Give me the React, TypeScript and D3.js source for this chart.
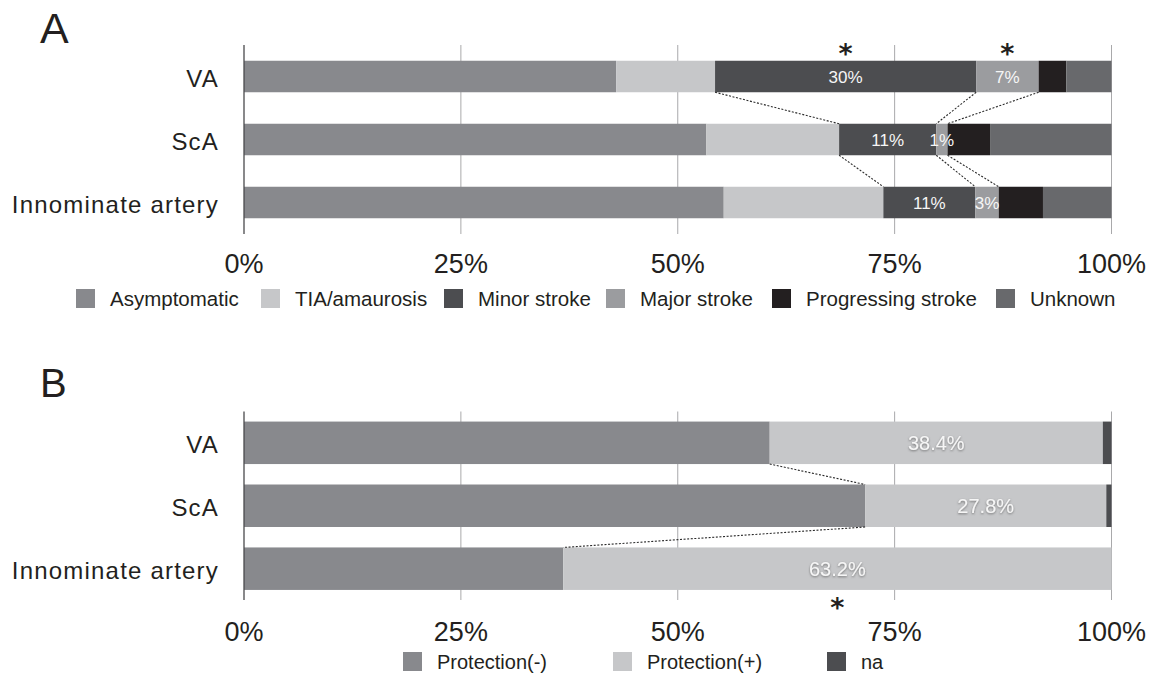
import React, { useEffect } from "react";
import * as d3 from "d3";

// ---- data ----
const arteries = ["VA", "ScA", "Innominate artery"];

const symptomKeys = ["Asymptomatic", "TIA/amaurosis", "Minor stroke", "Major stroke", "Progressing stroke", "Unknown"];
const symptomColors = ["#88898d", "#c6c7c9", "#4c4d50", "#9b9c9f", "#231f20", "#68696c"];
const symptomVA = [42.9, 11.4, 30.1, 7.2, 3.2, 5.2];
const symptomScA = [53.3, 15.3, 11.2, 1.3, 4.9, 14.0];
const symptomInnominate = [55.3, 18.4, 10.6, 2.7, 5.1, 7.9];

const protectionKeys = ["Protection(-)", "Protection(+)", "na"];
const protectionColors = ["#88898d", "#c6c7c9", "#4c4d50"];
const protectionVA = [60.6, 38.4, 1.0];
const protectionScA = [71.6, 27.8, 0.6];
const protectionInnominate = [36.8, 63.2, 0];

const tickValues = [0, 25, 50, 75, 100];

// segments that carry a value label, segments whose starts are joined between rows, significance marks
const symptomLabelled = ["Minor stroke", "Major stroke"];
const symptomLinked = ["Minor stroke", "Major stroke", "Progressing stroke"];
const symptomStars = [
  { artery: "VA", key: "Minor stroke" },
  { artery: "VA", key: "Major stroke" },
];
const protectionLabelled = ["Protection(+)"];
const protectionLinked = ["Protection(+)"];
const protectionStars = [{ artery: "Innominate artery", key: "Protection(+)" }];

const FONT = "'Liberation Sans', Arial, Helvetica, sans-serif";
const STAR_SIZE = 27;

type PanelProps = {
  id: string;
  letter: string;
  letterY: number;
  letterSize: number;
  keys: string[];
  colors: string[];
  values: number[][];
  labelled: string[];
  linked: string[];
  stars: { artery: string; key: string }[];
  starSide: "above" | "below";
  labelFormat: (v: number) => string;
  labelSize: number;
  labelShadow: boolean;
  top: number;
  bottom: number;
  padInner: number;
  padOuter: number;
  tickY: number;
  legendX: number[];
  legendY: number;
  legendSize: number;
};

const x = d3.scaleLinear().domain([0, 100]).range([244, 1111.5]);

function Panel(p: PanelProps) {
  const table = arteries.map((a, i) => {
    const row: any = { artery: a };
    p.keys.forEach((k, j) => (row[k] = p.values[i][j]));
    return row;
  });
  const series = d3.stack<any>().keys(p.keys)(table);
  const y = d3
    .scaleBand()
    .domain(arteries)
    .range([p.top, p.bottom])
    .paddingInner(p.padInner)
    .paddingOuter(p.padOuter);
  const bw = y.bandwidth();
  const color = d3.scaleOrdinal<string, string>().domain(p.keys).range(p.colors);
  const seg = (artery: string, key: string) => {
    const s = series.find((d) => d.key === key)!;
    const i = arteries.indexOf(artery);
    return s[i];
  };

  const links: { x1: number; y1: number; x2: number; y2: number }[] = [];
  for (let i = 0; i < arteries.length - 1; i++) {
    p.linked.forEach((k) => {
      const a = seg(arteries[i], k);
      const b = seg(arteries[i + 1], k);
      links.push({
        x1: x(a[0]),
        y1: (y(arteries[i]) as number) + bw,
        x2: x(b[0]),
        y2: y(arteries[i + 1]) as number,
      });
    });
  }

  return (
    <g>
      <text x={40} y={p.letterY} fontSize={p.letterSize} fill="#231f20" fontFamily={FONT}>
        {p.letter}
      </text>
      {tickValues
        .filter((t) => t > 0)
        .map((t) => (
          <line key={t} x1={x(t)} x2={x(t)} y1={p.top} y2={p.bottom} stroke="#a9a9ab" strokeWidth={1} />
        ))}
      {series.map((s) => (
        <g key={s.key} fill={color(s.key)}>
          {s.map((d, i) => (
            <rect
              key={i}
              x={x(d[0])}
              y={y(arteries[i]) as number}
              width={Math.max(0, x(d[1]) - x(d[0]))}
              height={bw}
            />
          ))}
        </g>
      ))}
      <line x1={x(0)} x2={x(0)} y1={p.top} y2={p.bottom} stroke="#4a4a4c" strokeWidth={1.3} />
      {links.map((l, i) => (
        <line
          key={i}
          x1={l.x1}
          y1={l.y1}
          x2={l.x2}
          y2={l.y2}
          stroke="#2a2a2a"
          strokeWidth={1.1}
          strokeDasharray="2,1.6"
        />
      ))}
      {arteries.map((a) =>
        p.labelled.map((k) => {
          const d = seg(a, k);
          const v = d[1] - d[0];
          return (
            <text
              key={a + k}
              x={(x(d[0]) + x(d[1])) / 2}
              y={(y(a) as number) + bw / 2 + p.labelSize * 0.37}
              textAnchor="middle"
              fontSize={p.labelSize}
              fill="#f6f6f6"
              fontFamily={FONT}
              filter={p.labelShadow ? `url(#shadow-${p.id})` : undefined}
            >
              {p.labelFormat(v)}
            </text>
          );
        })
      )}
      {p.stars.map((s, i) => {
        const d = seg(s.artery, s.key);
        const cx = (x(d[0]) + x(d[1])) / 2;
        // vertical centre of the asterisk glyph
        const cy =
          p.starSide === "above"
            ? (y(s.artery) as number) - 12
            : (y(s.artery) as number) + bw + 13;
        return (
          <text
            key={i}
            x={cx}
            y={cy + STAR_SIZE * 0.53}
            textAnchor="middle"
            fontSize={STAR_SIZE}
            fontWeight="bold"
            fill="#231f20"
            fontFamily="'DejaVu Sans', sans-serif"
          >
            *
          </text>
        );
      })}
      {arteries.map((a) => (
        <text
          key={a}
          x={219}
          y={(y(a) as number) + bw / 2 + 10}
          textAnchor="end"
          fontSize={24}
          letterSpacing={1.2}
          fill="#231f20"
          fontFamily={FONT}
        >
          {a}
        </text>
      ))}
      {tickValues.map((t) => (
        <text
          key={t}
          x={x(t)}
          y={p.tickY}
          textAnchor="middle"
          fontSize={27}
          fill="#231f20"
          fontFamily={FONT}
        >
          {t + "%"}
        </text>
      ))}
      {p.keys.map((k, i) => (
        <g key={k}>
          <rect x={p.legendX[i]} y={p.legendY} width={19} height={19} fill={color(k)} />
          <text
            x={p.legendX[i] + 34}
            y={p.legendY + 17}
            fontSize={p.legendSize}
            fill="#231f20"
            fontFamily={FONT}
          >
            {k}
          </text>
        </g>
      ))}
    </g>
  );
}

export default function App() {
  useEffect(() => {
    document.body.style.margin = "0";
  }, []);
  return (
    <svg width={1152} height={676} style={{ display: "block", background: "#fff" }}>
      <defs>
        <filter id="shadow-B" x="-20%" y="-40%" width="140%" height="180%">
          <feDropShadow dx="0" dy="1" stdDeviation="1.3" floodColor="#555" floodOpacity="0.75" />
        </filter>
      </defs>
      <Panel
        id="A"
        letter="A"
        letterY={43}
        letterSize={43}
        keys={symptomKeys}
        colors={symptomColors}
        values={[symptomVA, symptomScA, symptomInnominate]}
        labelled={symptomLabelled}
        linked={symptomLinked}
        stars={symptomStars}
        starSide="above"
        labelFormat={(v) => Math.round(v) + "%"}
        labelSize={17}
        labelShadow={false}
        top={45}
        bottom={234}
        padInner={0.5}
        padOuter={0.25}
        tickY={273}
        legendX={[76, 261, 444, 606, 772, 996]}
        legendY={289}
        legendSize={20.5}
      />
      <Panel
        id="B"
        letter="B"
        letterY={397}
        letterSize={40}
        keys={protectionKeys}
        colors={protectionColors}
        values={[protectionVA, protectionScA, protectionInnominate]}
        labelled={protectionLabelled}
        linked={protectionLinked}
        stars={protectionStars}
        starSide="below"
        labelFormat={(v) => v.toFixed(1) + "%"}
        labelSize={20}
        labelShadow={true}
        top={411.5}
        bottom={600}
        padInner={0.325}
        padOuter={0.16}
        tickY={641}
        legendX={[403, 613, 827]}
        legendY={652}
        legendSize={20}
      />
    </svg>
  );
}
